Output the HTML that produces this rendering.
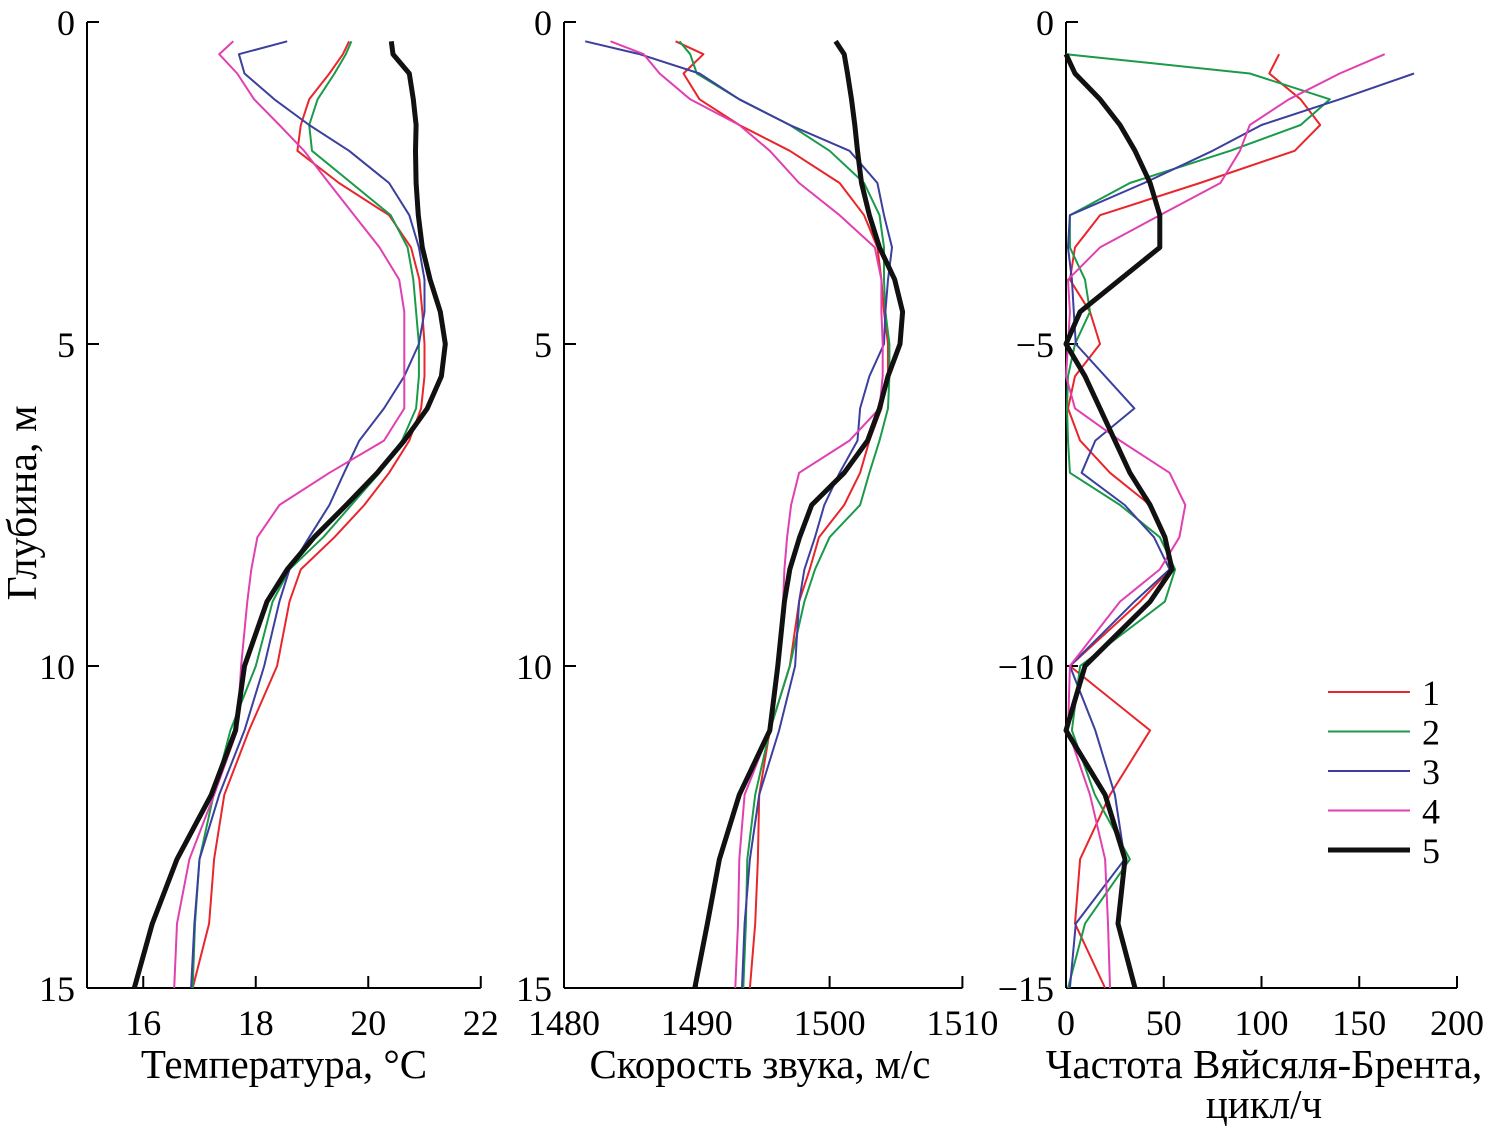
<!DOCTYPE html>
<html><head><meta charset="utf-8"><style>
html,body{margin:0;padding:0;background:#fff}
svg{display:block;font-family:"Liberation Serif",serif}
</style></head><body>
<svg id="chart" width="1499" height="1131"></svg>
<script>
const depths=[0.3,0.5,0.8,1.2,1.6,2,2.5,3,3.5,4,4.5,5,5.5,6,6.5,7,7.5,8,8.5,9,10,11,12,13,14,15];
const tempRed=[19.66,19.55,19.31,18.95,18.8,18.74,19.48,20.37,20.76,20.91,20.96,21.0,21.0,20.94,20.73,20.37,19.93,19.4,18.8,18.6,18.38,17.88,17.44,17.26,17.17,16.88];
const tempGreen=[19.7,19.6,19.4,19.1,18.95,19.0,19.7,20.4,20.7,20.8,20.85,20.9,20.9,20.85,20.6,20.2,19.7,19.2,18.6,18.3,18.0,17.55,17.25,17.0,16.92,16.88];
const tempBlue=[18.56,17.7,17.8,18.33,18.95,19.66,20.37,20.73,20.9,21.0,21.0,20.9,20.64,20.28,19.84,19.57,19.31,18.95,18.6,18.42,18.15,17.8,17.35,17.0,16.91,16.85];
const tempMagenta=[17.6,17.35,17.67,17.97,18.42,18.86,19.3,19.75,20.2,20.55,20.64,20.64,20.64,20.64,20.28,19.31,18.42,18.03,17.92,17.85,17.74,17.67,17.26,16.82,16.6,16.55];
const tempBlack=[20.41,20.44,20.73,20.8,20.85,20.84,20.85,20.89,20.96,21.1,21.28,21.37,21.3,21.05,20.64,20.16,19.61,19.04,18.56,18.2,17.8,17.64,17.21,16.6,16.16,15.84];
const soundRed=[1488.4,1490.5,1489.0,1490.2,1493.2,1497.0,1500.75,1502.6,1503.6,1503.9,1504.1,1504.4,1504.4,1503.9,1503.0,1502.3,1501.1,1499.2,1498.5,1497.7,1497.0,1495.5,1494.7,1494.6,1494.4,1494.0];
const soundGreen=[1488.7,1489.5,1490.0,1493.2,1497.0,1500.0,1502.6,1503.76,1504.1,1504.1,1504.2,1504.5,1504.5,1504.4,1503.76,1503.0,1502.3,1500.0,1498.9,1498.1,1497.0,1495.5,1494.4,1493.8,1493.7,1493.5];
const soundBlue=[1481.6,1485.7,1490.2,1493.2,1497.0,1501.5,1503.6,1504.1,1504.7,1504.4,1504.2,1504.1,1503.0,1502.3,1502.1,1500.75,1499.6,1498.9,1498.1,1497.7,1497.4,1496.2,1494.7,1494.0,1493.6,1493.4];
const soundMagenta=[1483.5,1486.0,1487.2,1489.5,1493.2,1495.5,1497.7,1500.75,1503.4,1503.9,1503.9,1504.0,1504.0,1503.76,1501.5,1497.7,1497.1,1496.8,1496.6,1496.5,1496.2,1495.5,1493.6,1493.2,1493.1,1492.9];
const soundBlack=[1500.45,1501.1,1501.35,1501.65,1501.9,1502.1,1502.4,1503.0,1503.76,1504.9,1505.5,1505.3,1504.4,1503.76,1502.86,1501.1,1498.65,1497.74,1497.0,1496.6,1496.1,1495.5,1493.2,1491.7,1490.8,1489.85];
const bvRed=[null,109,104,120,130,117,68.5,17.4,4.6,2,12.3,17.4,4.6,1,7.2,22.5,43,50.6,53.2,37.9,2,43,22.5,7.2,4.6,20];
const bvGreen=[null,0,94,135,120,84,32.7,2,2,9.7,12.3,4.6,1,0.5,1,2,27.6,48,55.8,50.6,7.2,3,14.8,32.7,9.7,1];
const bvBlue=[null,null,178,140,100,75,40,2,1,3,4,5,20,35,15,8,30,45,53,35,2,15,25,30,5,2];
const bvMagenta=[null,163,140,114,94,89,79,48,17.4,1,2,1,0,4.6,27.6,53,61,58,48,27.6,2,1,12.3,20,21.5,22.5];
const bvBlack=[null,0,4.6,17.4,27.6,35.3,43,48,48,27.6,7.2,0,9.7,17.4,25,32.7,43,50.6,54.2,43,9.7,0,20,30.2,26.6,35.3];
const tempTicks=[16,18,20,22], soundTicks=[1480,1490,1500,1510], bvTicks=[0,50,100,150,200];
const depthTicks=[0,5,10,15];
const legendLabels=['1','2','3','4','5'];
const colors=['#e8262b','#1a9a4a','#3b3f9e','#e040b0','#111'];
const widths=[2,2,2,2,5];

const svg=document.getElementById('chart');
const NS='http://www.w3.org/2000/svg';
function mk(t,a,p){const e=document.createElementNS(NS,t);for(const k in a)e.setAttribute(k,a[k]);(p||svg).appendChild(e);return e;}
const yOf=d=>22+d*64.4;

const panels=[
 {name:'temperature',x0:87,min:15,max:22,pxPer:56.25,ticks:tempTicks,series:[tempRed,tempGreen,tempBlue,tempMagenta,tempBlack],ylab:d=>String(d),title:['Температура, °C'],tx:284},
 {name:'sound-speed',x0:564,min:1480,max:1510,pxPer:13.28,ticks:soundTicks,series:[soundRed,soundGreen,soundBlue,soundMagenta,soundBlack],ylab:d=>String(d),title:['Скорость звука, м/с'],tx:760},
 {name:'brunt-vaisala',x0:1066,min:0,max:200,pxPer:1.955,ticks:bvTicks,series:[bvRed,bvGreen,bvBlue,bvMagenta,bvBlack],ylab:d=>d===0?'0':'\u2212'+d,title:['Частота Вяйсяля-Брента,','цикл/ч'],tx:1264}
];
panels.forEach(p=>{
  const g=mk('g',{});
  
  
  const xOf=v=>p.x0+(v-p.min)*p.pxPer;
  const xEnd=xOf(p.max);
  mk('line',{x1:p.x0,y1:22,x2:p.x0,y2:988,stroke:'#000','stroke-width':2},g);
  mk('line',{x1:p.x0,y1:988,x2:xEnd,y2:988,stroke:'#000','stroke-width':2},g);
  depthTicks.forEach(d=>{
    mk('line',{x1:p.x0,y1:yOf(d),x2:p.x0+12,y2:yOf(d),stroke:'#000','stroke-width':2},g);
    const t=mk('text',{x:p.x0-12,y:yOf(d)+13,'text-anchor':'end','font-size':36},g);
    t.textContent=p.ylab(d);
    
    
  });
  p.ticks.forEach(v=>{
    mk('line',{x1:xOf(v),y1:988,x2:xOf(v),y2:976,stroke:'#000','stroke-width':2},g);
    const t=mk('text',{x:xOf(v),y:1035,'text-anchor':'middle','font-size':36},g);
    t.textContent=String(v);
    
    
  });
  p.title.forEach((s,i)=>{
    const t=mk('text',{x:p.tx,y:1078+i*40,'text-anchor':'middle','font-size':41},g);
    t.textContent=s;
    
    
  });
  p.series.forEach((arr,si)=>{
    let d='';let pen=false;
    arr.forEach((v,i)=>{
      if(v===null){pen=false;return;}
      d+=(pen?'L':'M')+xOf(v).toFixed(1)+','+yOf(depths[i]).toFixed(1);pen=true;
    });
    const path=mk('path',{d:d,fill:'none',stroke:colors[si],'stroke-width':widths[si],'stroke-linejoin':'round'},g);
    
    
  });
});
const yt=mk('text',{x:0,y:0,'text-anchor':'middle','font-size':42,transform:'translate(36,503) rotate(-90)'});
yt.textContent='Глубина, м';


legendLabels.forEach((l,i)=>{
  const y=692+i*39.5;
  const ln=mk('line',{x1:1328,y1:y,x2:1410,y2:y,stroke:colors[i],'stroke-width':widths[i]});
  
  
  const t=mk('text',{x:1422,y:y+13,'font-size':36});
  t.textContent=l;
  
  
});
</script>
</body></html>
